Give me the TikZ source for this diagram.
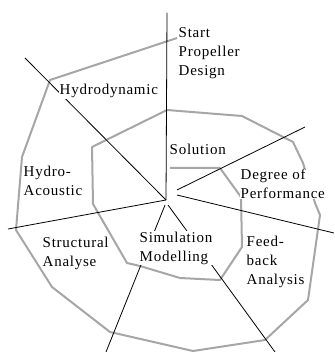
\documentclass[tikz,border=0pt]{standalone}
\usepackage{fontspec}
\setmainfont{Liberation Serif}[LetterSpace=5]
\begin{document}
\begin{tikzpicture}[x=1pt,y=-1pt,
  spiral/.style={draw=black!35,line width=2pt,line join=round},
  spoke/.style={draw=black,line width=0.8pt},
  lbl/.style={fill=white,inner sep=0.5pt,anchor=base west,align=left,
    font=\fontsize{15}{19}\selectfont}]
\useasboundingbox (0,0) rectangle (334,352);
% spiral
\draw[spiral] (170,168) -- (220,168) -- (241,197) -- (242,247) -- (220,280)
  -- (180,278) -- (140,266) -- (127,263) -- (112,237) -- (93,204) -- (92,147)
  -- (167,110) -- (242,116) -- (293,142) -- (303,163) -- (315,203) -- (320,215)
  -- (308,300) -- (265,340) -- (193,351) -- (110,332) -- (52,287) -- (16,230)
  -- (22,157) -- (50,80) -- (177,38);
% spoke ends
\coordinate (c) at (166,200);
\coordinate (eN) at (167,13);
\coordinate (eNW) at (25,58);
\coordinate (eW) at (8,229);
\coordinate (sNE) at (177,190);
\coordinate (eNE) at (305,127);
\coordinate (sE) at (177,195);
\coordinate (eE) at (334,233);
\coordinate (sSW) at (165,205);
\coordinate (eSW) at (106,352);
\coordinate (sSE) at (168,205);
\coordinate (eSE) at (275,352);
\draw[spoke] (c) -- (eN);
\draw[spoke] (c) -- (eNW);
\draw[spoke] (c) -- (eW);
\draw[spoke] (sNE) -- (eNE);
\draw[spoke] (sE) -- (eE);
\draw[spoke] (sSW) -- (eSW);
\draw[spoke] (sSE) -- (eSE);
% labels (base = baseline of last line)
\node[lbl] (start) at (178,76) {Start\\Propeller\\Design};
\node[lbl] (hydrodyn) at (59,95) {Hydrodynamic};
\node[lbl] (solution) at (169,155) {Solution};
\node[lbl] (degree) at (240,198) {Degree of\\Performance};
\node[lbl] (acoustic) at (23,195) {Hydro-\\Acoustic};
\node[lbl] (struct) at (42,266) {Structural\\Analyse};
\node[lbl] (simul) at (139,261) {Simulation\\Modelling};
\node[lbl] (feed) at (246,284) {Feed-\\back\\Analysis};
\end{tikzpicture}
\end{document}
